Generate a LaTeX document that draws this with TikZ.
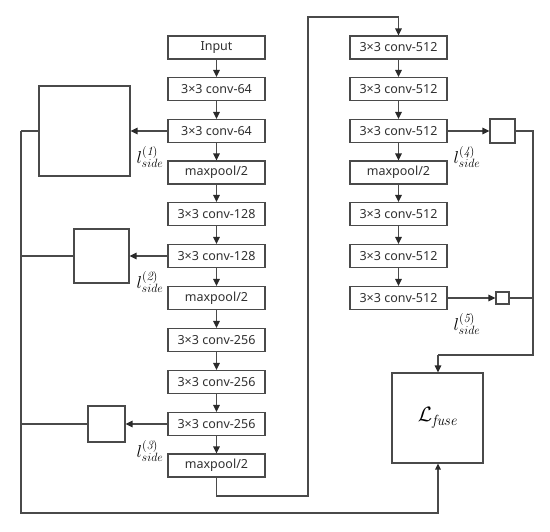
\documentclass[tikz,border=0pt]{standalone}
\usepackage{fontspec}
\newfontfamily\boxfont{Noto Sans}
\usetikzlibrary{arrows.meta}
\definecolor{linegray}{HTML}{4A4A4A}
\definecolor{textgray}{HTML}{303030}
\definecolor{tipgray}{HTML}{2A2A2A}
\begin{document}
\begin{tikzpicture}[x=1pt,y=-1pt,
  blk/.style={draw=linegray, line width=1.2pt, minimum width=97pt, minimum height=23pt, inner sep=0pt, font=\boxfont\fontsize{12.5}{13}\selectfont, text=textgray},
  sq/.style={draw=linegray, line width=1.2pt, inner sep=0pt},
  conn/.style={draw=linegray, line width=1.3pt},
  arr/.style={conn, -{Triangle[length=7pt,width=6.5pt,color=tipgray]}},
  mainline/.style={draw=linegray, line width=1.9pt},
  lab/.style={inner sep=0pt, text=black, font=\fontsize{18}{20}\selectfont}
]
\useasboundingbox (0,0) rectangle (550,532);

% left column
\node[blk] (in)   at (216.5,47.5)  {Input};
\node[blk] (c641) at (216.5,89)    {3×3 conv-64};
\node[blk] (c642) at (216.5,131)   {3×3 conv-64};
\node[blk] (mp1)  at (216.5,172.5) {maxpool/2};
\node[blk] (c1281) at (216.5,214)  {3×3 conv-128};
\node[blk] (c1282) at (216.5,256)  {3×3 conv-128};
\node[blk] (mp2)  at (216.5,298)   {maxpool/2};
\node[blk] (c2561) at (216.5,340)  {3×3 conv-256};
\node[blk] (c2562) at (216.5,382)  {3×3 conv-256};
\node[blk] (c2563) at (216.5,424)  {3×3 conv-256};
\node[blk] (mp3)  at (216.5,465.5) {maxpool/2};

% right column
\node[blk] (c5121) at (398.5,47.5)  {3×3 conv-512};
\node[blk] (c5122) at (398.5,89)    {3×3 conv-512};
\node[blk] (c5123) at (398.5,131)   {3×3 conv-512};
\node[blk] (mp4)   at (398.5,172.5) {maxpool/2};
\node[blk] (c5124) at (398.5,214)   {3×3 conv-512};
\node[blk] (c5125) at (398.5,256)   {3×3 conv-512};
\node[blk] (c5126) at (398.5,298)   {3×3 conv-512};

% side boxes
\node[sq, minimum width=91pt, minimum height=90pt] (s1) at (84.5,131) {};
\node[sq, minimum width=55pt, minimum height=54pt] (s2) at (101.5,256) {};
\node[sq, minimum width=37pt, minimum height=36pt] (s3) at (106.5,424) {};
\node[sq, minimum width=25pt, minimum height=24pt] (s4) at (502.5,131) {};
\node[sq, minimum width=13pt, minimum height=12pt] (s5) at (502.5,298) {};
\node[sq, minimum width=91pt, minimum height=90pt, font=\fontsize{21}{23}\selectfont, text=black] (fuse) at (437.5,418) {$\mathcal{L}_{\mathit{fuse}}$};

% labels
\node[lab] (l1) at (150,157) {$l_{side}^{(\mathit{1})}$};
\node[lab] (l2) at (150,282) {$l_{side}^{(\mathit{2})}$};
\node[lab] (l3) at (150,451) {$l_{side}^{(\mathit{3})}$};
\node[lab] (l4) at (467,157) {$l_{side}^{(\mathit{4})}$};
\node[lab] (l5) at (467,324) {$l_{side}^{(\mathit{5})}$};

% column arrows
\foreach \a/\b in {in/c641,c641/c642,c642/mp1,mp1/c1281,c1281/c1282,c1282/mp2,mp2/c2561,c2561/c2562,c2562/c2563,c2563/mp3,
  c5121/c5122,c5122/c5123,c5123/mp4,mp4/c5124,c5124/c5125,c5125/c5126}
  \draw[arr] (\a.south) -- (\b.north);

% side arrows
\draw[arr] (c642.west) -- (s1.east);
\draw[arr] (c1282.west) -- (s2.east);
\draw[arr] (c2563.west) -- (s3.east);
\draw[arr] (c5123.east) -- (s4.west);
\draw[arr] (c5126.east) -- (s5.west);

% coordinates
\coordinate (lt) at (21,131);
\coordinate (lb) at (21,513);
\coordinate (bm) at (438,513);
\coordinate (rt) at (533,131);
\coordinate (rb) at (533,355);
\coordinate (fm) at (438,355);
\coordinate (jb) at (308,496);
\coordinate (jt) at (308,17);

% left collection
\draw[conn] (s1.west) -- (lt);
\draw[mainline, -{Triangle[length=6pt,width=5.5pt,color=tipgray]}] (lt) -- (lb) -- (bm) -- (fuse.south -| bm);
\draw[conn] (s2.west) -- (s2.west -| lt);
\draw[conn] (s3.west) -- (s3.west -| lt);

% link between columns
\draw[arr] (mp3.south) |- (jb) -- (jt) -| (c5121.north);

% right collection
\draw[conn] (s4.east) -- (rt) -- (rb) -- (fm);
\draw[arr] (fm) -- (fuse.north -| fm);
\draw[conn] (s5.east) -- (s5.east -| rt);
\end{tikzpicture}
\end{document}
